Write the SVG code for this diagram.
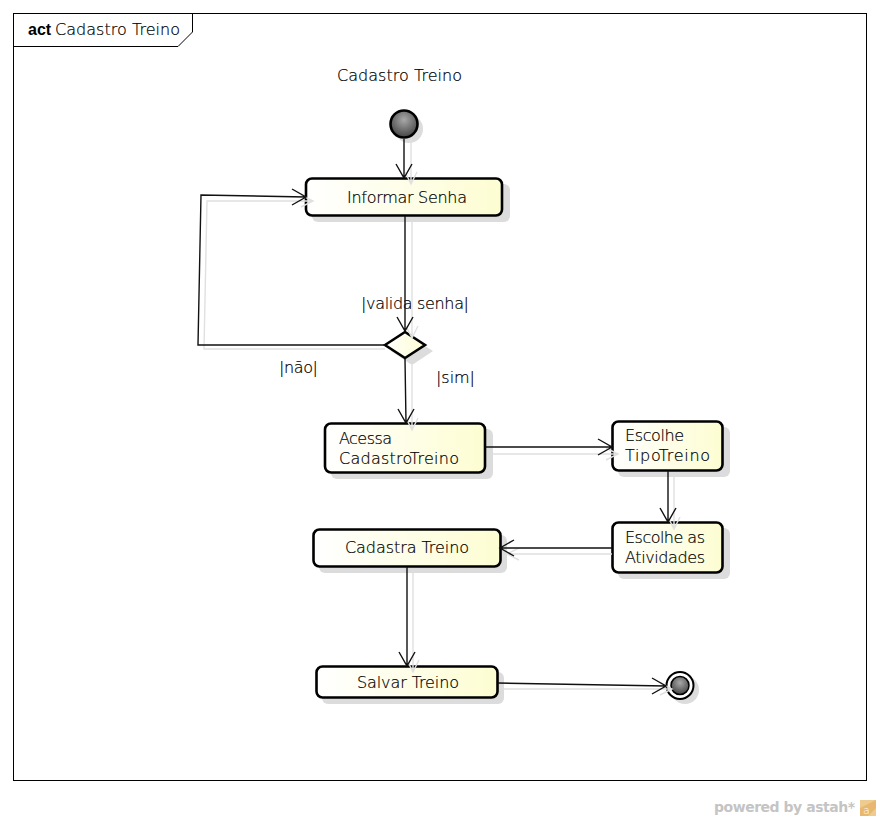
<svg xmlns="http://www.w3.org/2000/svg" width="880" height="820" viewBox="0 0 880 820">
<defs>
<linearGradient id="nodeFill" x1="0" y1="0" x2="1" y2="0"><stop offset="0" stop-color="#ffffff"/><stop offset="1" stop-color="#fdfdd2"/></linearGradient>
<radialGradient id="ball" cx="0.5" cy="0.35" r="0.7"><stop offset="0" stop-color="#a8a8a8"/><stop offset="1" stop-color="#3c3c3c"/></radialGradient>
</defs>
<style>
text{font-family:"DejaVu Sans ExtraLight","DejaVu Sans",sans-serif;font-weight:200;font-size:16px;fill:#000;stroke:#000;stroke-width:.2px}
.n{fill:url(#nodeFill);stroke:#000;stroke-width:2.6}
.s{fill:#dcdcdc;stroke:none}
.c{fill:none;stroke:#111;stroke-width:1.4}
.g{fill:none;stroke:#e0e0e0;stroke-width:1.4}
.f{fill:none;stroke:#000;stroke-width:1}
</style>
<rect width="880" height="820" fill="#fff"/>
<g id="frame">
<rect class="f" x="13.500" y="13.500" width="853" height="767"/>
<path class="f" d="M13.500 46.500H178L192.500 32V13.500"/>
<text x="28" y="35" style="font-family:'Liberation Sans',sans-serif;font-weight:bold;stroke:none">act</text>
<text x="55" y="35" textLength="125">Cadastro Treino</text>
<text x="337" y="81" textLength="125">Cadastro Treino</text>
</g>
<g id="start"><circle class="s" cx="409" cy="129" r="14"/><circle cx="404" cy="124" r="13.500" fill="url(#ball)" stroke="#000" stroke-width="2.600"/></g>
<g id="informar-senha"><rect class="s" x="312" y="184" width="198" height="38" rx="6"/><rect class="n" x="306" y="178.500" width="196" height="37" rx="6"/><text x="347" y="203" textLength="120">Informar Senha</text></g>
<g id="decision"><path class="s" d="M391 351L412 338L433 351L412 365Z"/><path class="n" d="M385 345L405 332L425 345L405 358Z"/><text x="361" y="309" textLength="108">|valida senha|</text><text x="279" y="373" textLength="39">|não|</text><text x="436" y="383" textLength="39">|sim|</text></g>
<g id="acessa"><rect class="s" x="331" y="429" width="162" height="50" rx="6"/><rect class="n" x="325" y="423.500" width="160" height="49" rx="6"/><text x="339" y="444" textLength="53">Acessa</text><text x="339" y="464" textLength="120">CadastroTreino</text></g>
<g id="escolhe-tipo"><rect class="s" x="618" y="427" width="112" height="50" rx="6"/><rect class="n" x="612.500" y="421.500" width="110" height="49" rx="6"/><text x="625" y="441" textLength="59">Escolhe</text><text x="625" y="461" textLength="85">TipoTreino</text></g>
<g id="escolhe-atividades"><rect class="s" x="618" y="528" width="112" height="51" rx="6"/><rect class="n" x="612.500" y="522.500" width="110" height="50" rx="6"/><text x="625" y="543" textLength="80">Escolhe as</text><text x="625" y="563" textLength="80">Atividades</text></g>
<g id="cadastra"><rect class="s" x="319" y="535" width="188" height="38" rx="6"/><rect class="n" x="313.500" y="529.500" width="187" height="37" rx="6"/><text x="345" y="553" textLength="124">Cadastra Treino</text></g>
<g id="salvar"><rect class="s" x="322" y="672" width="182" height="32" rx="6"/><rect class="n" x="316.500" y="666.500" width="181" height="31" rx="6"/><text x="357" y="688" textLength="102">Salvar Treino</text></g>
<g id="end"><circle class="s" cx="685" cy="690" r="14"/><circle cx="680" cy="685.500" r="13.500" fill="#fff" stroke="#000" stroke-width="2"/><circle cx="680" cy="685.500" r="9" fill="url(#ball)" stroke="#000" stroke-width="1.500"/></g>
<g id="connectors">
<path class="g" d="M411 139V184M405 172L411 184L417 172"/>
<path class="c" d="M404 139V178M396 164L404 178L412 164"/>
<path class="g" d="M412 222V338M406 326L412 338L418 326"/>
<path class="c" d="M405 216V331M397 317L405 331L413 317"/>
<path class="g" d="M385 349H204L207 201H313M301 195L313 201L301 207"/>
<path class="c" d="M385 345H198L201 195L306 197M292 189L306 197L292 205"/>
<path class="g" d="M412 365V430M406 418L412 430L418 418"/>
<path class="c" d="M405 359L406 423M398 409L406 423L414 409"/>
<path class="g" d="M493 454H618M606 448L618 454L606 460"/>
<path class="c" d="M486 447H612M598 439L612 447L598 455"/>
<path class="g" d="M674 477V529M668 517L674 529L680 517"/>
<path class="c" d="M668 471V522M660 508L668 522L676 508"/>
<path class="g" d="M612 554H507M519 548L507 554L519 560"/>
<path class="c" d="M612 548H500M514 540L500 548L514 556"/>
<path class="g" d="M413 573V672M407 660L413 672L419 660"/>
<path class="c" d="M407 567V666M399 652L407 666L415 652"/>
<path class="g" d="M504 689H672M660 683L672 689L660 695"/>
<path class="c" d="M498 683L666 686M652 678L666 686L652 694"/>
</g>
<g id="watermark">
<text x="714" y="812" textLength="141" style="font-family:'DejaVu Sans',sans-serif;font-size:14px;font-weight:bold;fill:#c4c4c4;stroke:none">powered by astah*</text>
<rect x="860" y="800" width="16" height="16" fill="#eecb8e"/>
<path d="M860 808L876 800V808L868 816H860Z" fill="#e8b870"/>
<text x="863" y="814" style="font-family:'DejaVu Sans',sans-serif;font-size:11px;fill:#fff;stroke:none">a</text>
</g>
</svg>
